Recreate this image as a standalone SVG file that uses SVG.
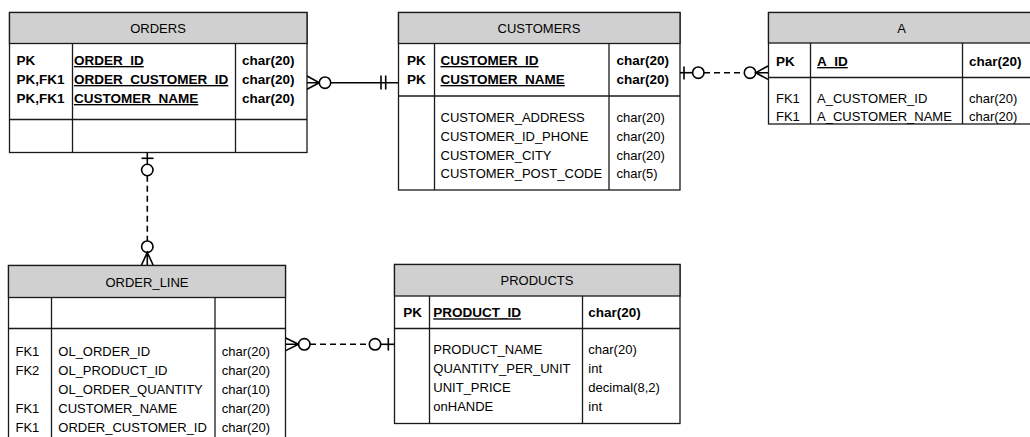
<svg xmlns="http://www.w3.org/2000/svg" width="1030" height="437" viewBox="0 0 1030 437">
  <style>
    .box { fill: #ffffff; stroke: #1a1a1a; stroke-width: 1.3; }
    .head { fill: #d0d0d0; stroke: #1a1a1a; stroke-width: 1.3; }
    .sep { stroke: #1a1a1a; stroke-width: 1.3; fill: none; }
    text { font-family: "Liberation Sans", Arial, sans-serif; font-size: 13px; fill: #000; }
    .title { text-anchor: middle; }
    .b { font-weight: bold; font-size: 13.5px; }
    .u { text-decoration: underline; }
    .rel { stroke: #000; stroke-width: 1.6; fill: none; }
    .dash { stroke-dasharray: 6 4; }
    .ring { stroke: #000; stroke-width: 1.6; fill: #ffffff; }
  </style>

  <!-- ORDERS -->
  <g id="orders">
    <rect class="box" x="9.5" y="12.5" width="297.5" height="140"/>
    <rect class="head" x="9.5" y="12.5" width="297.5" height="31"/>
    <line class="sep" x1="9.5" y1="119.5" x2="307" y2="119.5"/>
    <line class="sep" x1="72.5" y1="43.5" x2="72.5" y2="152.5"/>
    <line class="sep" x1="235.5" y1="43.5" x2="235.5" y2="152.5"/>
    <text class="title" x="158" y="33">ORDERS</text>
    <text class="b" x="16.5" y="65">PK</text>
    <text class="b" x="16.5" y="84">PK,FK1</text>
    <text class="b" x="16.5" y="103">PK,FK1</text>
    <text class="b u" x="74" y="65">ORDER_ID</text>
    <text class="b u" x="74" y="84">ORDER_CUSTOMER_ID</text>
    <text class="b u" x="74" y="103">CUSTOMER_NAME</text>
    <text class="b" x="242" y="65">char(20)</text>
    <text class="b" x="242" y="84">char(20)</text>
    <text class="b" x="242" y="103">char(20)</text>
  </g>

  <!-- CUSTOMERS -->
  <g id="customers">
    <rect class="box" x="398.5" y="12.5" width="281.5" height="177.5"/>
    <rect class="head" x="398.5" y="12.5" width="281.5" height="31"/>
    <line class="sep" x1="398.5" y1="96" x2="680" y2="96"/>
    <line class="sep" x1="434.5" y1="43.5" x2="434.5" y2="190"/>
    <line class="sep" x1="609" y1="43.5" x2="609" y2="190"/>
    <text class="title" x="539" y="33">CUSTOMERS</text>
    <text class="b" x="407" y="65">PK</text>
    <text class="b" x="407" y="84">PK</text>
    <text class="b u" x="440.5" y="65">CUSTOMER_ID</text>
    <text class="b u" x="440.5" y="84">CUSTOMER_NAME</text>
    <text class="b" x="616.5" y="65">char(20)</text>
    <text class="b" x="616.5" y="84">char(20)</text>
    <text x="440.5" y="121.5">CUSTOMER_ADDRESS</text>
    <text x="440.5" y="140.5">CUSTOMER_ID_PHONE</text>
    <text x="440.5" y="159.5">CUSTOMER_CITY</text>
    <text x="440.5" y="178.3">CUSTOMER_POST_CODE</text>
    <text x="616.5" y="121.5">char(20)</text>
    <text x="616.5" y="140.5">char(20)</text>
    <text x="616.5" y="159.5">char(20)</text>
    <text x="616.5" y="178.3">char(5)</text>
  </g>

  <!-- A -->
  <g id="a">
    <rect class="box" x="768.5" y="12.5" width="267" height="111.5"/>
    <rect class="head" x="768.5" y="12.5" width="267" height="30.5"/>
    <line class="sep" x1="768.5" y1="77.5" x2="1035" y2="77.5"/>
    <line class="sep" x1="810.5" y1="43" x2="810.5" y2="124"/>
    <line class="sep" x1="962.5" y1="43" x2="962.5" y2="124"/>
    <text class="title" x="901.7" y="33">A</text>
    <text class="b" x="776" y="66">PK</text>
    <text class="b u" x="817" y="66">A_ID</text>
    <text class="b" x="969" y="66">char(20)</text>
    <text x="776" y="103.3">FK1</text>
    <text x="776" y="120.8">FK1</text>
    <text x="817" y="103.3">A_CUSTOMER_ID</text>
    <text x="817" y="120.8">A_CUSTOMER_NAME</text>
    <text x="969" y="103.3">char(20)</text>
    <text x="969" y="120.8">char(20)</text>
  </g>

  <!-- ORDER_LINE -->
  <g id="order_line">
    <rect class="box" x="8.5" y="265.5" width="277" height="185"/>
    <rect class="head" x="8.5" y="265.5" width="277" height="32"/>
    <line class="sep" x1="8.5" y1="328.5" x2="285.5" y2="328.5"/>
    <line class="sep" x1="51.5" y1="297.5" x2="51.5" y2="450"/>
    <line class="sep" x1="215" y1="297.5" x2="215" y2="450"/>
    <text class="title" x="147" y="286.5">ORDER_LINE</text>
    <text x="15.5" y="356">FK1</text>
    <text x="15.5" y="375">FK2</text>
    <text x="15.5" y="413.3">FK1</text>
    <text x="15.5" y="432.3">FK1</text>
    <text x="58.3" y="356">OL_ORDER_ID</text>
    <text x="58.3" y="375">OL_PRODUCT_ID</text>
    <text x="58.3" y="394">OL_ORDER_QUANTITY</text>
    <text x="58.3" y="413.3">CUSTOMER_NAME</text>
    <text x="58.3" y="432.3">ORDER_CUSTOMER_ID</text>
    <text x="221.7" y="356">char(20)</text>
    <text x="221.7" y="375">char(20)</text>
    <text x="221.7" y="394">char(10)</text>
    <text x="221.7" y="413.3">char(20)</text>
    <text x="221.7" y="432.3">char(20)</text>
  </g>

  <!-- PRODUCTS -->
  <g id="products">
    <rect class="box" x="394.5" y="264.5" width="285.5" height="159"/>
    <rect class="head" x="394.5" y="264.5" width="285.5" height="31.5"/>
    <line class="sep" x1="394.5" y1="328.5" x2="680" y2="328.5"/>
    <line class="sep" x1="429.5" y1="296" x2="429.5" y2="423.5"/>
    <line class="sep" x1="582.5" y1="296" x2="582.5" y2="423.5"/>
    <text class="title" x="537" y="285">PRODUCTS</text>
    <text class="b" x="403.3" y="317.3">PK</text>
    <text class="b u" x="433.3" y="317.3">PRODUCT_ID</text>
    <text class="b" x="588.3" y="317.3">char(20)</text>
    <text x="433.3" y="354">PRODUCT_NAME</text>
    <text x="433.3" y="373">QUANTITY_PER_UNIT</text>
    <text x="433.3" y="392">UNIT_PRICE</text>
    <text x="433.3" y="411">onHANDE</text>
    <text x="588.3" y="354">char(20)</text>
    <text x="588.3" y="373">int</text>
    <text x="588.3" y="392">decimal(8,2)</text>
    <text x="588.3" y="411">int</text>
  </g>

  <!-- relationships -->
  <g id="connectors">
    <!-- ORDERS many-optional to CUSTOMERS exactly-one -->
    <g id="orders-customers">
      <line class="rel" x1="330.7" y1="82.7" x2="398" y2="82.7"/>
      <path class="rel" d="M307 76 L319.3 82.7 L307 89.3 M307 82.7 L319.3 82.7"/>
      <circle class="ring" cx="325" cy="82.7" r="5.7"/>
      <line class="rel" x1="381" y1="75.5" x2="381" y2="89.5"/>
      <line class="rel" x1="385.7" y1="75.5" x2="385.7" y2="89.5"/>
    </g>
    <!-- CUSTOMERS zero-or-one to A zero-or-many -->
    <g id="customers-a">
      <line class="rel" x1="680" y1="72.7" x2="692.6" y2="72.7"/>
      <line class="rel" x1="684" y1="66.5" x2="684" y2="79.5"/>
      <circle class="ring" cx="698.3" cy="72.7" r="5.7"/>
      <line class="rel dash" x1="704" y1="72.7" x2="744.3" y2="72.7"/>
      <circle class="ring" cx="750" cy="72.7" r="5.7"/>
      <path class="rel" d="M768 66 L755.7 72.7 L768 79.4 M755.7 72.7 L768 72.7"/>
    </g>
    <!-- ORDERS zero-or-one to ORDER_LINE zero-or-many -->
    <g id="orders-order_line">
      <line class="rel" x1="147.3" y1="152.5" x2="147.3" y2="164.3"/>
      <line class="rel" x1="141.5" y1="158.3" x2="153.5" y2="158.3"/>
      <circle class="ring" cx="147.3" cy="170" r="5.7"/>
      <line class="rel dash" x1="147.3" y1="175.7" x2="147.3" y2="241"/>
      <circle class="ring" cx="147.3" cy="246.7" r="5.7"/>
      <path class="rel" d="M141.5 265 L147.3 252.4 L153.1 265 M147.3 252.4 L147.3 265"/>
    </g>
    <!-- ORDER_LINE zero-or-many to PRODUCTS zero-or-one -->
    <g id="order_line-products">
      <path class="rel" d="M285.7 338 L298.6 344.3 L285.7 350.6 M285.7 344.3 L298.6 344.3"/>
      <circle class="ring" cx="304.3" cy="344.3" r="5.7"/>
      <line class="rel dash" x1="310" y1="344.3" x2="369.3" y2="344.3"/>
      <circle class="ring" cx="375" cy="344.3" r="5.7"/>
      <line class="rel" x1="380.7" y1="344.3" x2="394.3" y2="344.3"/>
      <line class="rel" x1="388.3" y1="338" x2="388.3" y2="350.6"/>
    </g>
  </g>
</svg>
